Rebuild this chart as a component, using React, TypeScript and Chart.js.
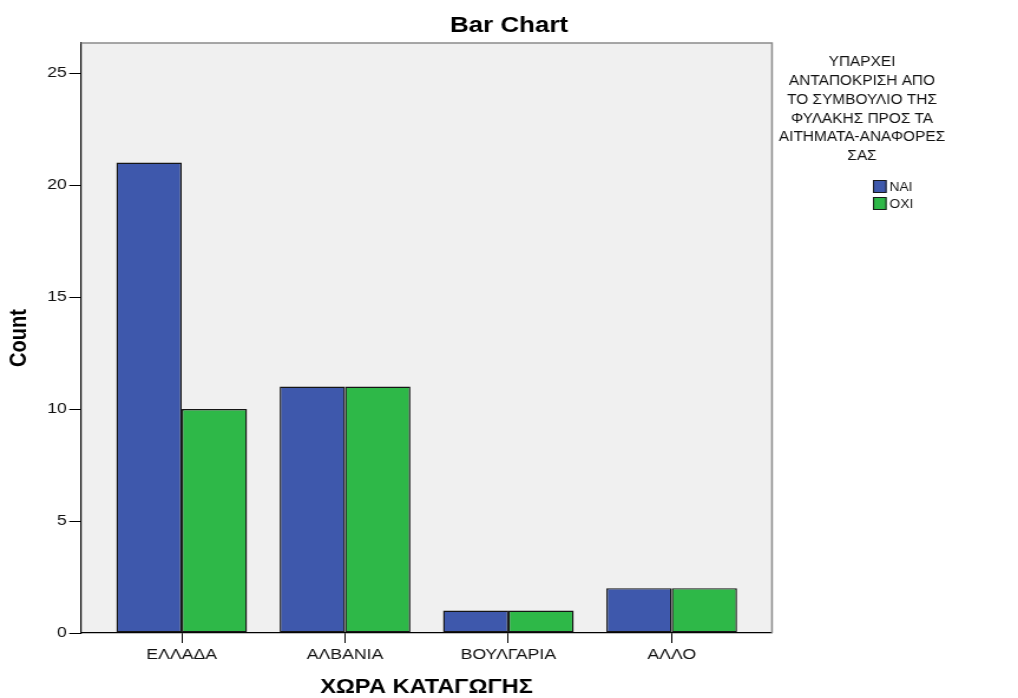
import React, { useEffect, useRef } from "react";
import { Chart, registerables } from "chart.js";

Chart.register(...registerables);

// ---- data ----
const CATEGORIES = ["ΕΛΛΑΔΑ", "ΑΛΒΑΝΙΑ", "ΒΟΥΛΓΑΡΙΑ", "ΑΛΛΟ"];
const SERIES_NAMES = ["ΝΑΙ", "ΟΧΙ"];
const NAI_VALUES = [21, 11, 1, 2];
const OXI_VALUES = [10, 11, 1, 2];
const Y_TICKS = [0, 5, 10, 15, 20, 25];
const Y_MAX = 26.34;
const CHART_TITLE = "Bar Chart";
const X_TITLE = "ΧΩΡΑ ΚΑΤΑΓΩΓΗΣ";
const Y_TITLE = "Count";
const LEGEND_TITLE = [
  "ΥΠΑΡΧΕΙ",
  "ΑΝΤΑΠΟΚΡΙΣΗ ΑΠΟ",
  "ΤΟ ΣΥΜΒΟΥΛΙΟ ΤΗΣ",
  "ΦΥΛΑΚΗΣ ΠΡΟΣ ΤΑ",
  "ΑΙΤΗΜΑΤΑ-ΑΝΑΦΟΡΕΣ",
  "ΣΑΣ",
];

// ---- styling / layout ----
const PAGE_W = 1018;
const PAGE_H = 698;
const STRETCH = 1.18; // horizontal stretch of the original rendering
const CANVAS_W = Math.round(PAGE_W / STRETCH);
const SX = PAGE_W / CANVAS_W;
const COLORS = ["#3E58AC", "#2EB848"];
const FONT = '"Liberation Sans", Arial, sans-serif';

const PLOT_LEFT = 81 / SX;
const PLOT_RIGHT = 772 / SX;
const PLOT_TOP = 43;
const PLOT_BOTTOM = 633;
const FIRST_CENTER = 181.7 / SX;
const LAST_CENTER = 671.7 / SX;
const STEP = (LAST_CENTER - FIRST_CENTER) / (CATEGORIES.length - 1);
const X_MIN = -(FIRST_CENTER - PLOT_LEFT) / STEP;
const X_MAX = CATEGORIES.length - 1 + (PLOT_RIGHT - LAST_CENTER) / STEP;

const decorPlugin = {
  id: "decor",
  beforeDraw(chart: any) {
    const { ctx, chartArea } = chart;
    const { left, top, right, bottom } = chartArea;
    ctx.save();
    ctx.fillStyle = "#F0F0F0";
    ctx.fillRect(left, top, right - left, bottom - top);
    ctx.restore();
  },
  afterDraw(chart: any) {
    const { ctx, chartArea } = chart;
    const { left, top, right, bottom } = chartArea;
    ctx.save();
    // top & right frame
    ctx.strokeStyle = "#8a8a8a";
    ctx.lineWidth = 1.5;
    ctx.beginPath();
    ctx.moveTo(left, top);
    ctx.lineTo(right, top);
    ctx.lineTo(right, bottom);
    ctx.stroke();

    // chart title
    ctx.fillStyle = "#000";
    ctx.textAlign = "center";
    ctx.textBaseline = "middle";
    ctx.font = `bold 22px ${FONT}`;
    ctx.fillText(CHART_TITLE, chart.width / 2, 26);

    // legend title (slightly condensed, taller glyphs)
    const lx = 862 / SX;
    ctx.font = `15px ${FONT}`;
    ctx.fillStyle = "#111";
    LEGEND_TITLE.forEach((line, i) => {
      ctx.save();
      ctx.translate(lx, 62 + i * 18.8);
      ctx.scale(0.87, 1);
      ctx.fillText(line, 0, 0);
      ctx.restore();
    });

    // legend items
    const boxX = 873 / SX;
    ctx.textAlign = "left";
    ctx.font = `13px ${FONT}`;
    SERIES_NAMES.forEach((name, i) => {
      const by = 180 + i * 17;
      ctx.fillStyle = COLORS[i];
      ctx.fillRect(boxX, by, 11.5, 13);
      ctx.strokeStyle = "#1a1a1a";
      ctx.lineWidth = 1;
      ctx.strokeRect(boxX + 0.5, by + 0.5, 10.5, 12);
      ctx.fillStyle = "#111";
      ctx.save();
      ctx.translate(boxX + 14, by + 7);
      ctx.scale(0.9, 1);
      ctx.fillText(name, 0, 0);
      ctx.restore();
    });
    ctx.restore();
  },
};

export default function App() {
  const ref = useRef<HTMLCanvasElement | null>(null);

  useEffect(() => {
    if (!ref.current) return;
    const seriesValues = [NAI_VALUES, OXI_VALUES];
    const chart = new Chart(ref.current, {
      type: "bar",
      data: {
        datasets: SERIES_NAMES.map((name, s) => ({
          label: name,
          data: seriesValues[s].map((v, i) => ({ x: i, y: v })),
          backgroundColor: COLORS[s],
          borderColor: "#151515",
          borderWidth: 1.4,
          borderSkipped: false,
          categoryPercentage: 0.8,
          barPercentage: 1.0,
        })),
      },
      options: {
        responsive: false,
        animation: false,
        devicePixelRatio: 1,
        layout: {
          padding: { left: 0, top: PLOT_TOP, right: CANVAS_W - PLOT_RIGHT, bottom: 0 },
        },
        plugins: {
          legend: { display: false },
          tooltip: { enabled: false },
          title: { display: false },
        },
        scales: {
          x: {
            type: "linear",
            min: X_MIN,
            max: X_MAX,
            offset: false,
            afterBuildTicks: (axis: any) => {
              axis.ticks = CATEGORIES.map((_, i) => ({ value: i }));
            },
            afterFit: (axis: any) => {
              axis.height = PAGE_H - PLOT_BOTTOM;
            },
            grid: {
              offset: false,
              drawOnChartArea: false,
              drawTicks: true,
              tickLength: 10,
              color: "#000",
            },
            border: { display: true, color: "#000", width: 1.2 },
            ticks: {
              autoSkip: false,
              maxRotation: 0,
              includeBounds: false,
              padding: 3,
              color: "#111",
              font: { family: FONT, size: 15 },
              callback: (v: any) => CATEGORIES[Math.round(Number(v))] ?? "",
            },
            title: {
              display: true,
              text: X_TITLE,
              color: "#000",
              font: { family: FONT, size: 20, weight: "bold", lineHeight: 1.2 },
              padding: { top: 0, bottom: -1 },
            },
          },
          y: {
            type: "linear",
            min: 0,
            max: Y_MAX,
            afterBuildTicks: (axis: any) => {
              axis.ticks = Y_TICKS.map((v) => ({ value: v }));
            },
            afterFit: (axis: any) => {
              axis.width = PLOT_LEFT;
            },
            grid: {
              drawOnChartArea: false,
              drawTicks: true,
              tickLength: 10,
              color: "#000",
            },
            border: { display: true, color: "#000", width: 1.2 },
            ticks: {
              includeBounds: false,
              padding: 2,
              color: "#111",
              font: { family: FONT, size: 15 },
            },
            title: {
              display: true,
              text: Y_TITLE,
              color: "#000",
              font: { family: FONT, size: 20, weight: "bold", lineHeight: 1.2 },
              padding: { top: 4, bottom: 0 },
            },
          },
        },
      } as any,
      plugins: [decorPlugin],
    });
    return () => chart.destroy();
  }, []);

  return (
    <div style={{ position: "fixed", left: 0, top: 0, width: PAGE_W, height: PAGE_H, background: "#fff" }}>
      <canvas
        ref={ref}
        width={CANVAS_W}
        height={PAGE_H}
        style={{ width: `${PAGE_W}px`, height: `${PAGE_H}px`, display: "block" }}
      />
    </div>
  );
}
